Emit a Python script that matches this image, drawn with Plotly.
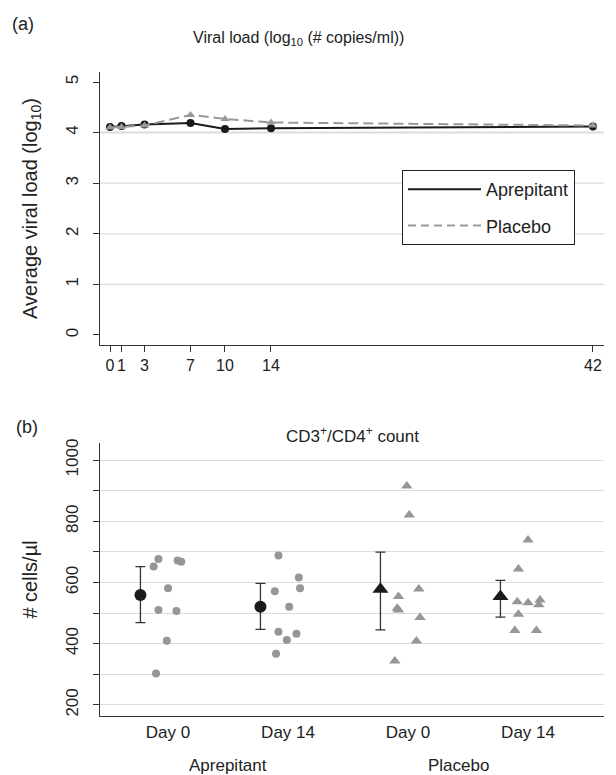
import plotly.graph_objects as go

# ---------------- Data ----------------
# Panel (a): viral load over days
days = [0, 1, 3, 7, 10, 14, 42]
day_ticks = [0, 1, 3, 7, 10, 14, 42]
aprepitant_vl = [4.11, 4.13, 4.16, 4.19, 4.07, 4.085, 4.12]
placebo_vl = [4.10, 4.11, 4.14, 4.35, 4.27, 4.20, 4.14]
vl_grid = [1, 2, 3, 4]

# Panel (b): CD3+/CD4+ counts
categories = ["Day 0", "Day 14", "Day 0", "Day 14"]
groups = ["Aprepitant", "Placebo"]
apr_d0 = [652, 677, 672, 668, 581, 510, 507, 410, 303]
apr_d14 = [688, 571, 616, 581, 521, 439, 412, 433, 367]
pla_d0 = [915, 820, 579, 554, 516, 510, 486, 409, 344]
pla_d14 = [739, 644, 537, 534, 543, 527, 496, 443, 443]
# jitter offsets (category units)
jit_apr_d0 = [-0.12, -0.08, 0.08, 0.11, 0.0, -0.08, 0.07, -0.01, -0.10]
jit_apr_d14 = [-0.08, -0.11, 0.09, 0.10, 0.01, -0.08, -0.01, 0.07, -0.10]
jit_pla_d0 = [-0.01, 0.01, 0.09, -0.08, -0.09, -0.08, 0.10, 0.07, -0.11]
jit_pla_d14 = [0.0, -0.08, -0.09, 0.0, 0.10, 0.09, -0.08, -0.11, 0.07]
means = [559, 521, 578, 554]
err_hi = [652, 597, 699, 607]
err_lo = [469, 447, 445, 487]
mean_offset = -0.23
cd_ticks = [200, 400, 600, 800, 1000]

FONT = "Liberation Sans, Arial, Helvetica, sans-serif"
AX = "#333333"
GRID = "#dcdcdc"
GRAYPT = "#969696"

fig = go.Figure()

# ---------------- Panel (a) ----------------
fig.add_trace(go.Scatter(
    x=days, y=aprepitant_vl, mode="lines+markers", xaxis="x", yaxis="y",
    line=dict(color="#1a1a1a", width=2), marker=dict(symbol="circle", size=8, color="#1a1a1a"),
    showlegend=False, name="Aprepitant"))
fig.add_trace(go.Scatter(
    x=days, y=placebo_vl, mode="lines+markers", xaxis="x", yaxis="y",
    line=dict(color="#999999", width=2, dash="10px,5px"),
    marker=dict(symbol="triangle-up", size=8, color="#999999"),
    showlegend=False, name="Placebo"))
# legend-only entries (line samples)
fig.add_trace(go.Scatter(x=[None], y=[None], mode="lines", xaxis="x", yaxis="y",
                         line=dict(color="#1a1a1a", width=2), name="Aprepitant",
                         legendgroup="a"))
fig.add_trace(go.Scatter(x=[None], y=[None], mode="lines", xaxis="x", yaxis="y",
                         line=dict(color="#999999", width=2, dash="8px,5px"), name="Placebo",
                         legendgroup="b"))

# ---------------- Panel (b) ----------------
pos = [1, 2, 3, 4]
pts = [apr_d0, apr_d14, pla_d0, pla_d14]
jits = [jit_apr_d0, jit_apr_d14, jit_pla_d0, jit_pla_d14]
for i in range(4):
    sym = "circle" if i < 2 else "triangle-up"
    size = 8 if i < 2 else 10
    fig.add_trace(go.Scatter(
        x=[pos[i] + j for j in jits[i]], y=pts[i], mode="markers", xaxis="x2", yaxis="y2",
        marker=dict(symbol=sym, size=size, color=GRAYPT), showlegend=False))
for i in range(4):
    sym = "circle" if i < 2 else "triangle-up"
    size = 12 if i < 2 else 14
    fig.add_trace(go.Scatter(
        x=[pos[i] + mean_offset], y=[means[i]], mode="markers", xaxis="x2", yaxis="y2",
        marker=dict(symbol=sym, size=size, color="#1a1a1a"),
        error_y=dict(type="data", symmetric=False,
                     array=[err_hi[i] - means[i]], arrayminus=[means[i] - err_lo[i]],
                     color=AX, thickness=1.3, width=5),
        showlegend=False))

# grid lines for panel (a) only at 1..4
shapes = []
for g in vl_grid:
    shapes.append(dict(type="line", xref="x domain", yref="y", x0=0, x1=1, y0=g, y1=g,
                       line=dict(color=GRID, width=2 if g == 4 else 1.2), layer="below"))

# The page body has an 8px margin, so the figure is placed at (8, 8) in the window.
OFF = 8
W, H = 616 - OFF, 775 - OFF
def px(x):
    return (x - OFF) / W
def py(y):
    return 1 - (y - OFF) / H

fig.update_layout(
    width=W, height=H,
    margin=dict(l=0, r=0, t=0, b=0),
    paper_bgcolor="white", plot_bgcolor="white",
    font=dict(family=FONT, color="#222222", size=16),
    shapes=shapes,
    xaxis=dict(domain=[px(100), px(604)], range=[-0.87, 42.96], anchor="y",
               tickvals=day_ticks, ticktext=[str(d) for d in day_ticks],
               showgrid=False, zeroline=False, showline=True, linecolor=AX, linewidth=1.3,
               ticks="outside", ticklen=6, tickcolor=AX, tickwidth=1.2,
               tickfont=dict(size=16), automargin=False),
    yaxis=dict(domain=[py(345), py(72)], range=[-0.198, 5.198], anchor="x",
               tickvals=[0, 1, 2, 3, 4, 5], tickangle=-90,
               showgrid=False, zeroline=False, showline=True, linecolor=AX, linewidth=1.3,
               ticks="outside", ticklen=6, tickcolor=AX, tickwidth=1.2,
               tickfont=dict(size=17), ticklabelstandoff=8,
               title=dict(text="Average viral load (log<sub>10</sub>)", font=dict(size=20), standoff=20),
               automargin=False),
    xaxis2=dict(domain=[px(100), px(604)], range=[0.433, 4.633], anchor="y2",
                tickvals=pos, ticktext=categories, ticks="",
                showgrid=False, zeroline=False, showline=True, linecolor=AX, linewidth=1.3,
                tickfont=dict(size=17), automargin=False),
    yaxis2=dict(domain=[py(716), py(443)], range=[164, 1055.5], anchor="x2",
                tickvals=cd_ticks, tickangle=-90,
                showgrid=True, gridcolor=GRID, gridwidth=1.2, zeroline=False,
                showline=True, linecolor=AX, linewidth=1.3,
                ticks="outside", ticklen=6, tickcolor=AX, tickwidth=1.2,
                minor=dict(dtick=100, tick0=100, ticks="outside", ticklen=6, tickcolor=AX,
                           tickwidth=1.2, showgrid=True, gridcolor=GRID, gridwidth=1.2),
                tickfont=dict(size=17), ticklabelstandoff=8,
                title=dict(text="# cells/µl", font=dict(size=20), standoff=20),
                automargin=False),
    legend=dict(x=px(402), y=py(170), xanchor="left", yanchor="top",
                bgcolor="white", bordercolor="#222222", borderwidth=1,
                font=dict(size=18), itemwidth=73, tracegroupgap=10,
                entrywidth=112, entrywidthmode="pixels",
                traceorder="grouped"),
    annotations=[
        dict(text="(a)", x=px(23), y=py(24), xref="paper", yref="paper", showarrow=False,
             font=dict(size=18), xanchor="center", yanchor="middle"),
        dict(text="(b)", x=px(27), y=py(427), xref="paper", yref="paper", showarrow=False,
             font=dict(size=18), xanchor="center", yanchor="middle"),
        dict(text="Viral load (log<sub>10</sub> (# copies/ml))", x=px(298), y=py(38),
             xref="paper", yref="paper", showarrow=False, font=dict(size=16),
             xanchor="center", yanchor="middle"),
        dict(text="CD3<sup>+</sup>/CD4<sup>+</sup> count", x=px(352), y=py(435),
             xref="paper", yref="paper", showarrow=False, font=dict(size=17),
             xanchor="center", yanchor="middle"),
        dict(text=groups[0], x=px(228), y=py(765), xref="paper", yref="paper",
             showarrow=False, font=dict(size=17), xanchor="center", yanchor="middle"),
        dict(text=groups[1], x=px(458), y=py(765), xref="paper", yref="paper",
             showarrow=False, font=dict(size=17), xanchor="center", yanchor="middle"),
    ],
)

fig.write_html("out.html")
